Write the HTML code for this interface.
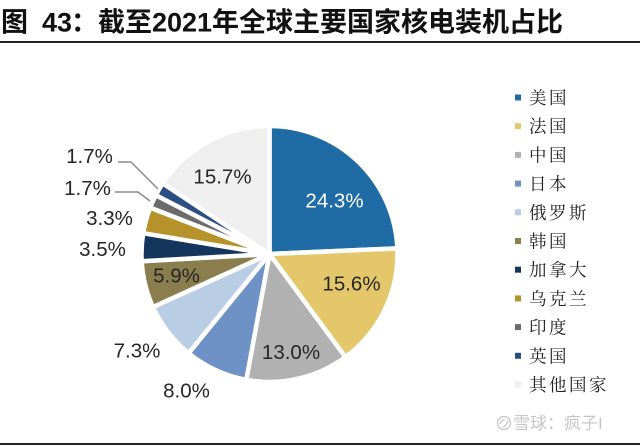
<!DOCTYPE html>
<html><head><meta charset="utf-8"><style>
html,body{margin:0;padding:0;background:#fff;}
body{width:640px;height:446px;position:relative;overflow:hidden;font-family:"Liberation Sans","Noto Sans CJK SC",sans-serif;}
.ttl{font-family:"Liberation Sans","Noto Sans CJK SC",sans-serif;font-weight:bold;font-size:27px;fill:#111;}
.leg{font-family:"Liberation Serif","Noto Serif CJK SC","Noto Sans CJK SC",serif;font-size:17.5px;fill:#222;letter-spacing:2.5px;}
.lab{font-family:"Liberation Sans",Arial,sans-serif;font-size:20.5px;fill:#262626;}
.wm{font-family:"Liberation Sans","Noto Sans CJK SC",sans-serif;font-size:17px;fill:#c6c6c6;}
</style></head><body>
<div style="position:absolute;left:0;top:41px;width:640px;height:2px;background:#222;"></div>
<div style="position:absolute;left:0;top:443px;width:640px;height:2px;background:#222;"></div>
<svg width="640" height="446" style="position:absolute;left:0;top:0;" xmlns="http://www.w3.org/2000/svg">
<g class="ttl">
<text x="1" y="31.5">图</text>
<text x="42" y="31.5">43</text>
<text x="71" y="31.5">：</text>
<text x="98" y="31.5">截至</text>
<text x="152" y="31.5">2021</text>
<text x="212" y="31.5">年全球主要国家核电装机占比</text>
</g>
<g stroke="#fff" stroke-width="4.5" stroke-linejoin="round">
<path d="M269.5 254 L269.5 126 A128 128 0 0 1 397.38 248.37 Z" fill="#1F6BA5"/>
<path d="M269.5 254 L397.38 248.37 A128 128 0 0 1 345.39 357.08 Z" fill="#E5C76B"/>
<path d="M269.5 254 L345.39 357.08 A128 128 0 0 1 246.31 379.88 Z" fill="#B1B1B1"/>
<path d="M269.5 254 L246.31 379.88 A128 128 0 0 1 188.54 353.15 Z" fill="#6E92C6"/>
<path d="M269.5 254 L188.54 353.15 A128 128 0 0 1 152.99 307.04 Z" fill="#B9CDE5"/>
<path d="M269.5 254 L152.99 307.04 A128 128 0 0 1 141.70 261.23 Z" fill="#8B7E4E"/>
<path d="M269.5 254 L141.70 261.23 A128 128 0 0 1 143.20 233.18 Z" fill="#14365C"/>
<path d="M269.5 254 L143.20 233.18 A128 128 0 0 1 150.19 207.64 Z" fill="#B5922A"/>
<path d="M269.5 254 L150.19 207.64 A128 128 0 0 1 155.81 195.16 Z" fill="#6B6B6B"/>
<path d="M269.5 254 L155.81 195.16 A128 128 0 0 1 162.75 183.37 Z" fill="#2B4E83"/>
<path d="M269.5 254 L162.75 183.37 A128 128 0 0 1 269.5 126 Z" fill="#EFEFEF"/>
</g>
<g fill="none" stroke="#8C8C8C" stroke-width="1.5">
<polyline points="118,162 131,162 158,189"/>
<polyline points="115,192 138,192 150,201"/>
</g>
<g class="lab" text-anchor="middle">
<text x="334.5" y="207.5" style="fill:#fff">24.3%</text>
<text x="222.5" y="183.5">15.7%</text>
<text x="351.5" y="290.5">15.6%</text>
<text x="291" y="359">13.0%</text>
<text x="186.5" y="397.5">8.0%</text>
<text x="137" y="357.5">7.3%</text>
<text x="176.5" y="282.5">5.9%</text>
<text x="102.5" y="256">3.5%</text>
<text x="109.5" y="225">3.3%</text>
<text x="87.5" y="195">1.7%</text>
<text x="89.5" y="163">1.7%</text>
</g>
<g>
<rect x="515" y="94.5" width="6" height="6" fill="#1F6BA5"/>
<rect x="515" y="123.2" width="6" height="6" fill="#E5C76B"/>
<rect x="515" y="151.9" width="6" height="6" fill="#B1B1B1"/>
<rect x="515" y="180.6" width="6" height="6" fill="#6E92C6"/>
<rect x="515" y="209.3" width="6" height="6" fill="#B9CDE5"/>
<rect x="515" y="238" width="6" height="6" fill="#8B7E4E"/>
<rect x="515" y="266.7" width="6" height="6" fill="#14365C"/>
<rect x="515" y="295.4" width="6" height="6" fill="#B5922A"/>
<rect x="515" y="324.1" width="6" height="6" fill="#6B6B6B"/>
<rect x="515" y="352.8" width="6" height="6" fill="#2B4E83"/>
<rect x="515" y="381.5" width="6" height="6" fill="#EFEFEF"/>
</g>
<g class="leg">
<text x="529" y="104">美国</text>
<text x="529" y="132.7">法国</text>
<text x="529" y="161.4">中国</text>
<text x="529" y="190.1">日本</text>
<text x="529" y="218.8">俄罗斯</text>
<text x="529" y="247.5">韩国</text>
<text x="529" y="276.2">加拿大</text>
<text x="529" y="304.9">乌克兰</text>
<text x="529" y="333.6">印度</text>
<text x="529" y="362.3">英国</text>
<text x="529" y="391">其他国家</text>
</g>
<circle cx="504" cy="423" r="6.5" fill="none" stroke="#c4c4c4" stroke-width="1.3"/>
<path d="M500 424 Q502 419 505 420 M503 427 Q506 426 508 421" stroke="#c4c4c4" stroke-width="1.2" fill="none"/>
<text class="wm" x="513" y="429">雪球：疯子I</text>
</svg>
</body></html>
